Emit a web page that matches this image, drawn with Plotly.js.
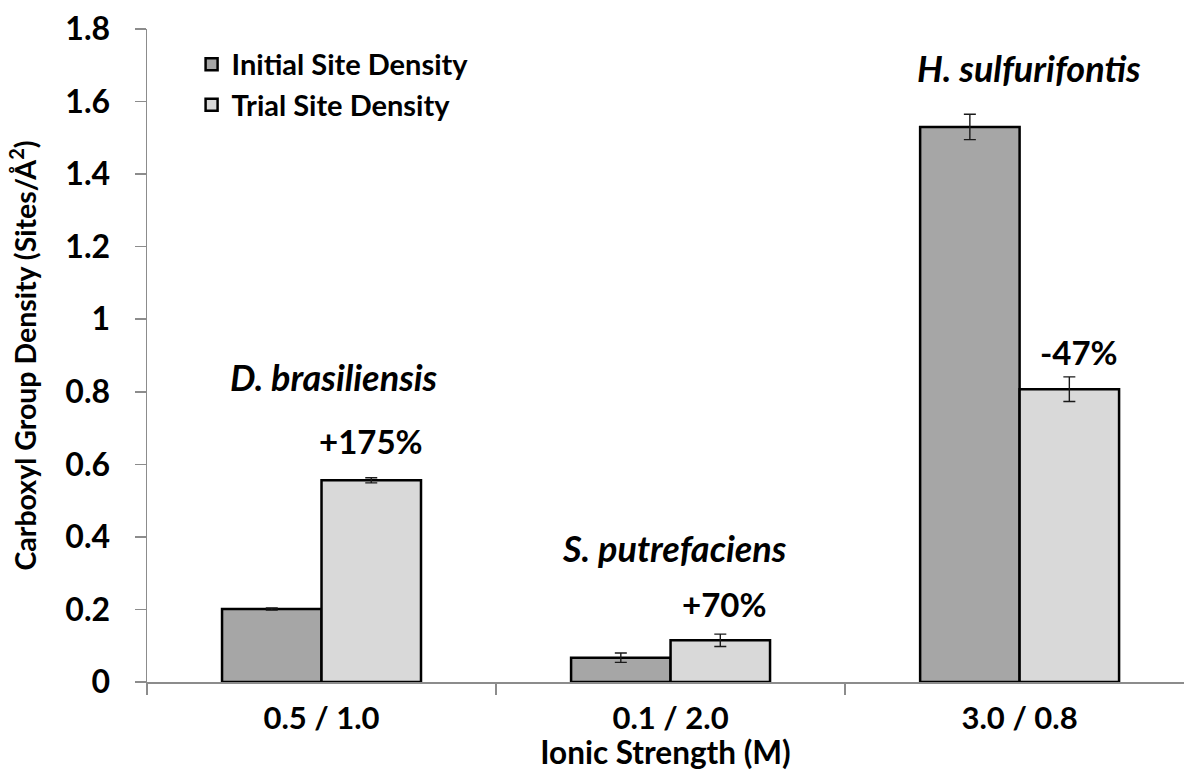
<!DOCTYPE html>
<html>
<head>
<meta charset="utf-8">
<script src="https://cdn.plot.ly/plotly-3.0.1.min.js"></script>
<style>
html, body { margin: 0; padding: 0; background: #fff; }
#chart { width: 1184px; height: 771px; }
</style>
</head>
<body>
<div id="chart"></div>
<script>
// ---- data ----
const categories = ["0.5 / 1.0", "0.1 / 2.0", "3.0 / 0.8"];
const initialDensity = [0.201, 0.067, 1.530];
const initialError = [0.003, 0.013, 0.035];
const trialDensity = [0.556, 0.115, 0.807];
const trialError = [0.007, 0.017, 0.034];
const speciesLabels = ["D. brasiliensis", "S. putrefaciens", "H. sulfurifontis"];
const changeLabels = ["+175%", "+70%", "-47%"];

const FONT = "Lato, 'Open Sans', sans-serif";

const barLine = { color: "#000000", width: 2.5 };
const errStyle = (arr) => ({ type: "data", array: arr, visible: true, color: "#1a1a1a", thickness: 1.4, width: 6 });

const traces = [
  {
    type: "bar", name: "Initial Site Density", x: categories, y: initialDensity,
    marker: { color: "#A6A6A6", line: barLine },
    error_y: errStyle(initialError)
  },
  {
    type: "bar", name: "Trial Site Density", x: categories, y: trialDensity,
    marker: { color: "#D9D9D9", line: barLine },
    error_y: errStyle(trialError)
  }
];

// annotation positions (category index offsets, y in data units)
const speciesPos = [[0.036, 0.841], [1.012, 0.369], [2.027, 1.693]];
const changePos = [[0.143, 0.663], [1.152, 0.216], [2.17, 0.911]];

const annotations = [];
speciesLabels.forEach((t, i) => annotations.push({
  text: t, x: speciesPos[i][0], y: speciesPos[i][1], xref: "x", yref: "y",
  showarrow: false, xanchor: "center", yanchor: "middle",
  font: { family: FONT, size: 36, color: "#000", weight: "bold", style: "italic" }
}));
changeLabels.forEach((t, i) => annotations.push({
  text: t, x: changePos[i][0], y: changePos[i][1], xref: "x", yref: "y",
  showarrow: false, xanchor: "center", yanchor: "middle",
  font: { family: FONT, size: 33, color: "#000", weight: "bold" }
}));

const layout = {
  width: 1184, height: 771,
  margin: { l: 147, r: 0, t: 29, b: 89, pad: 0 },
  paper_bgcolor: "#ffffff", plot_bgcolor: "#ffffff",
  barmode: "group", bargap: 0.43, bargroupgap: 0,
  showlegend: true,
  legend: {
    x: 0.043, y: 0.985, xanchor: "left", yanchor: "top",
    bgcolor: "rgba(0,0,0,0)", font: { family: FONT, size: 29, color: "#000", weight: "bold" },
    itemwidth: 30, tracegroupgap: 0
  },
  xaxis: {
    type: "category", range: [-0.5, 2.471],
    tickson: "boundaries",
    showgrid: false, zeroline: false,
    showline: true, linecolor: "#8c8c8c", linewidth: 1.5,
    ticks: "outside", ticklen: 11, tickcolor: "#8c8c8c", tickwidth: 1.5,
    tickfont: { family: FONT, size: 31, color: "#000", weight: "bold" },
    ticklabelstandoff: 8,
    title: { text: "Ionic Strength (M)", standoff: 0, font: { family: FONT, size: 31.5, color: "#000", weight: "bold" } }
  },
  yaxis: {
    range: [0, 1.8], dtick: 0.2, tick0: 0,
    showgrid: false, zeroline: false,
    showline: true, linecolor: "#8c8c8c", linewidth: 1.5,
    ticks: "outside", ticklen: 11, tickcolor: "#8c8c8c", tickwidth: 1.5,
    tickfont: { family: FONT, size: 32, color: "#000", weight: "bold" },
    ticklabelstandoff: 18,
    title: { text: "Carboxyl Group Density (Sites/Å<sup>2</sup>)", standoff: 20, font: { family: FONT, size: 28.5, color: "#000", weight: "bold" } }
  },
  annotations: annotations
};

Plotly.newPlot("chart", traces, layout, { displayModeBar: false, staticPlot: true });
</script>
</body>
</html>
